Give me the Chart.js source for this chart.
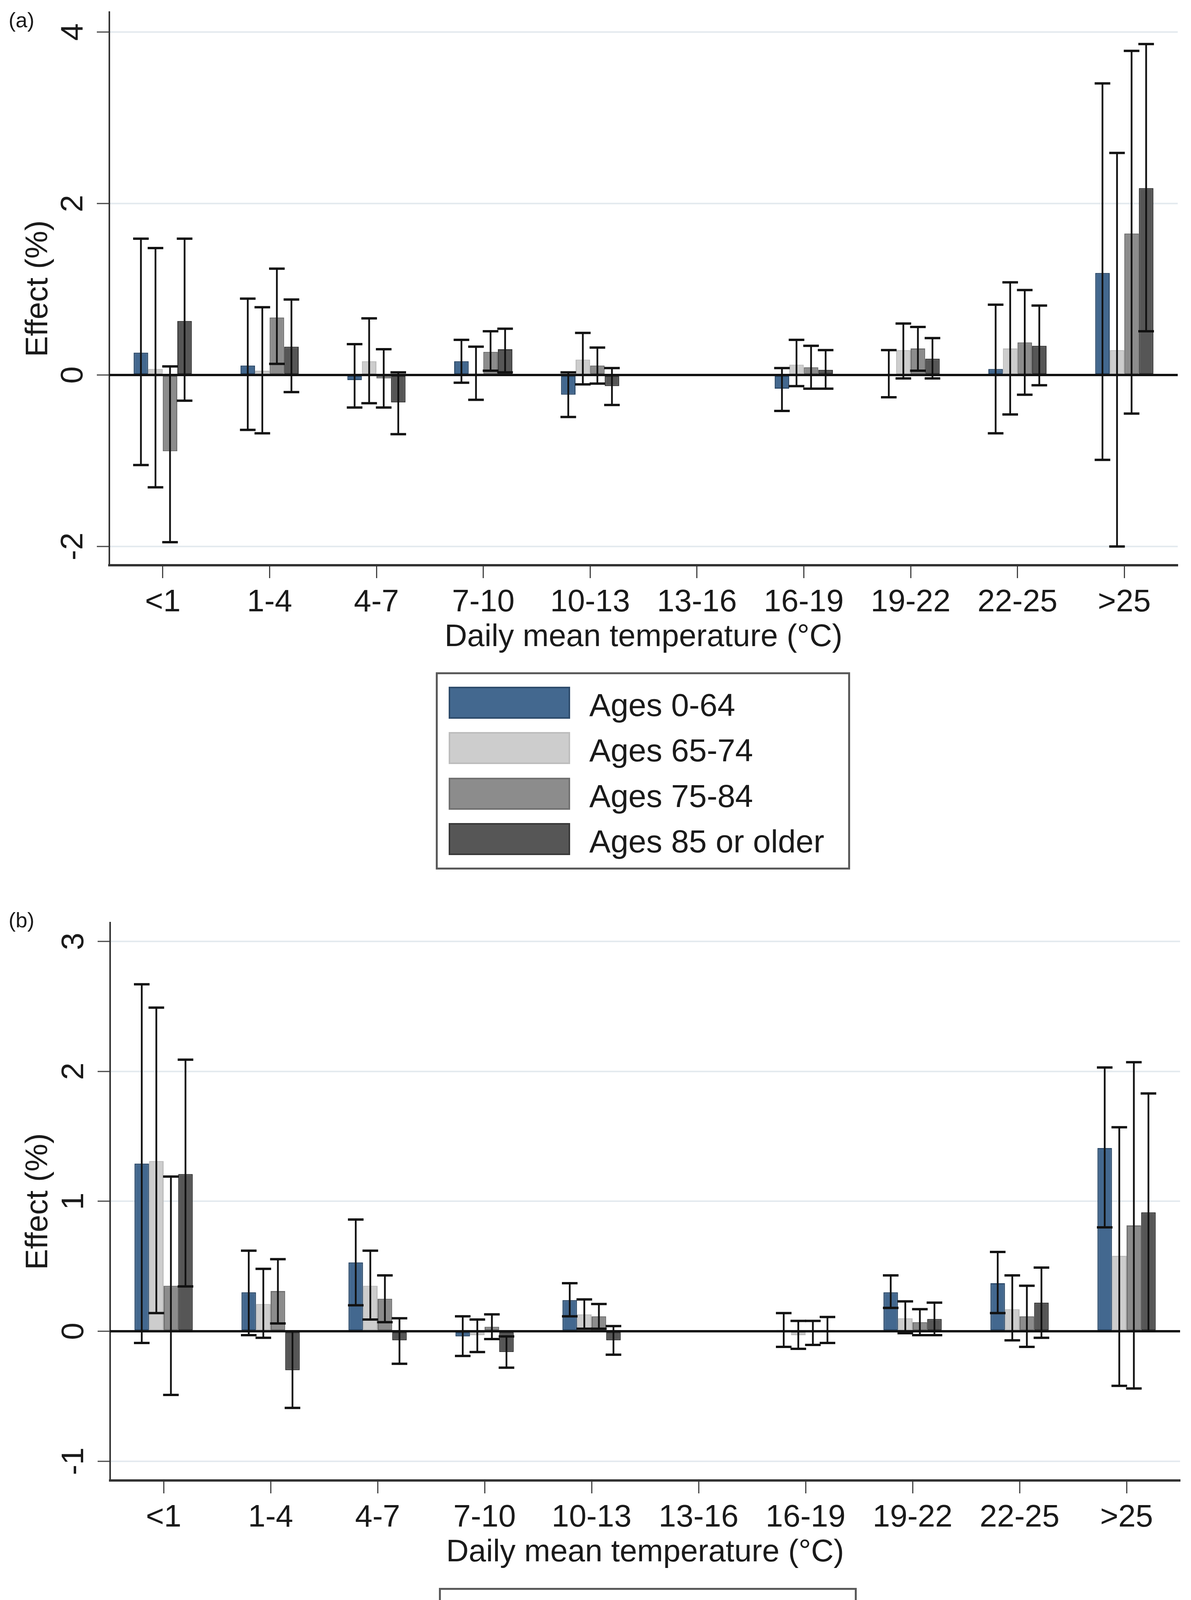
<!DOCTYPE html>
<html>
<head>
<meta charset="utf-8">
<script src="https://cdn.jsdelivr.net/npm/chart.js@4.4.1/dist/chart.umd.min.js"></script>
<style>
  html, body { margin: 0; padding: 0; background: #fff; }
  body { width: 3050px; height: 4608px; position: relative; overflow: hidden;
         font-family: "Liberation Sans", Arial, sans-serif; color: #1a1a1a; }
  canvas { position: absolute; left: 0; }
  .panel-tag { position: absolute; left: 22px; font-size: 54px; line-height: 54px; }
  .legend { position: absolute; border: 5px solid #5a5a5a; box-sizing: border-box; background: #fff; }
  .legend-swatch { position: absolute; box-sizing: border-box; border: 4px solid; }
  .legend-text { position: absolute; font-size: 82px; white-space: nowrap; }
</style>
</head>
<body>
<div class="panel-tag" style="top:24px">(a)</div>
<canvas id="chartA" width="3050" height="1700" style="top:0"></canvas>
<div class="legend" id="legendA"></div>

<div class="panel-tag" style="top:2328px">(b)</div>
<canvas id="chartB" width="3050" height="1730" style="top:2300px"></canvas>
<div class="legend" id="legendB"></div>

<script>
'use strict';

var tempBands = ['<1', '1-4', '4-7', '7-10', '10-13', '13-16', '16-19', '19-22', '22-25', '>25'];
var ageGroups = ['Ages 0-64', 'Ages 65-74', 'Ages 75-84', 'Ages 85 or older'];
var yTicksA = [-2, 0, 2, 4];
var yTicksB = [-1, 0, 1, 2, 3];

// panel (a): estimate, lower and upper CI per age group (13-16 is the reference band)
var effA_0_64  = [0.26, 0.11, -0.06, 0.16, -0.23, null, -0.16, 0.01, 0.07, 1.19];
var lowA_0_64  = [-1.05, -0.64, -0.38, -0.09, -0.49, null, -0.42, -0.26, -0.68, -0.99];
var highA_0_64 = [1.59, 0.89, 0.36, 0.41, 0.03, null, 0.08, 0.29, 0.82, 3.40];

var effA_65_74  = [0.07, 0.05, 0.16, 0.02, 0.18, null, 0.12, 0.29, 0.31, 0.29];
var lowA_65_74  = [-1.31, -0.68, -0.33, -0.29, -0.11, null, -0.13, -0.04, -0.46, -2.00];
var highA_65_74 = [1.48, 0.79, 0.66, 0.33, 0.49, null, 0.41, 0.60, 1.08, 2.59];

var effA_75_84  = [-0.89, 0.67, -0.04, 0.27, 0.11, null, 0.09, 0.31, 0.38, 1.65];
var lowA_75_84  = [-1.95, 0.13, -0.38, 0.05, -0.10, null, -0.16, 0.05, -0.23, -0.45];
var highA_75_84 = [0.10, 1.24, 0.30, 0.51, 0.32, null, 0.34, 0.56, 0.99, 3.78];

var effA_85  = [0.63, 0.33, -0.32, 0.30, -0.13, null, 0.06, 0.19, 0.34, 2.18];
var lowA_85  = [-0.30, -0.20, -0.69, 0.03, -0.35, null, -0.16, -0.04, -0.12, 0.51];
var highA_85 = [1.59, 0.88, 0.03, 0.54, 0.08, null, 0.29, 0.43, 0.81, 3.86];

// panel (b)
var effB_0_64  = [1.29, 0.30, 0.53, -0.04, 0.24, null, 0.01, 0.30, 0.37, 1.41];
var lowB_0_64  = [-0.09, -0.03, 0.20, -0.19, 0.115, null, -0.12, 0.18, 0.14, 0.80];
var highB_0_64 = [2.67, 0.62, 0.86, 0.115, 0.37, null, 0.14, 0.43, 0.61, 2.03];

var effB_65_74  = [1.31, 0.21, 0.35, -0.03, 0.13, null, -0.03, 0.10, 0.17, 0.58];
var lowB_65_74  = [0.14, -0.05, 0.09, -0.16, 0.02, null, -0.135, -0.015, -0.07, -0.42];
var highB_65_74 = [2.49, 0.48, 0.62, 0.09, 0.245, null, 0.08, 0.23, 0.43, 1.57];

var effB_75_84  = [0.35, 0.31, 0.25, 0.035, 0.115, null, -0.01, 0.07, 0.115, 0.815];
var lowB_75_84  = [-0.49, 0.06, 0.07, -0.06, 0.02, null, -0.105, -0.03, -0.12, -0.44];
var highB_75_84 = [1.19, 0.555, 0.43, 0.13, 0.21, null, 0.08, 0.17, 0.35, 2.07];

var effB_85  = [1.21, -0.30, -0.07, -0.16, -0.07, null, 0.01, 0.095, 0.22, 0.915];
var lowB_85  = [0.345, -0.59, -0.25, -0.28, -0.18, null, -0.09, -0.03, -0.05, 0.0];
var highB_85 = [2.09, 0.0, 0.10, -0.04, 0.04, null, 0.11, 0.22, 0.49, 1.83];

var FONT = '"Liberation Sans", Arial, sans-serif';
var ageFill = ['#43688f', '#cdcdcd', '#8c8c8c', '#565656'];
var ageEdge = ['#2d4b6b', '#bdbdbd', '#707070', '#383838'];

// zero line, confidence intervals and rotated y labels (Stata look)
var stataExtras = {
  id: 'stataExtras',
  afterDatasetsDraw: function(chart) {
    var ctx = chart.ctx;
    var area = chart.chartArea;
    var y = chart.scales.y;
    var zero = y.getPixelForValue(0);
    ctx.save();
    ctx.strokeStyle = '#111';
    ctx.lineWidth = 6;
    ctx.beginPath();
    ctx.moveTo(area.left, zero);
    ctx.lineTo(area.right, zero);
    ctx.stroke();

    chart.data.datasets.forEach(function(ds, d) {
      chart.getDatasetMeta(d).data.forEach(function(bar, j) {
        if (ds.data[j] === null) return;
        var top = y.getPixelForValue(ds.ciHigh[j]);
        var bot = y.getPixelForValue(ds.ciLow[j]);
        ctx.lineWidth = 4.5;
        ctx.beginPath();
        ctx.moveTo(bar.x, top);
        ctx.lineTo(bar.x, bot);
        ctx.stroke();
        ctx.lineWidth = 6;
        ctx.beginPath();
        ctx.moveTo(bar.x - 20, top);
        ctx.lineTo(bar.x + 20, top);
        ctx.moveTo(bar.x - 20, bot);
        ctx.lineTo(bar.x + 20, bot);
        ctx.stroke();
      });
    });
    ctx.restore();
  },
  afterDraw: function(chart) {
    var ctx = chart.ctx;
    var y = chart.scales.y;
    ctx.save();
    ctx.fillStyle = '#1a1a1a';
    ctx.font = '80px ' + FONT;
    ctx.textAlign = 'center';
    ctx.textBaseline = 'middle';
    y.ticks.forEach(function(t) {
      ctx.save();
      ctx.translate(chart.options.tickLabelX, y.getPixelForValue(t.value));
      ctx.rotate(-Math.PI / 2);
      ctx.fillText(String(t.value), 0, 0);
      ctx.restore();
    });
    ctx.restore();
  }
};

function buildChart(canvasId, est, low, high, yMin, yMax, yTicks, axisLeft, pad) {
  var datasets = ageGroups.map(function(name, k) {
    return {
      label: name,
      data: est[k],
      ciLow: low[k],
      ciHigh: high[k],
      backgroundColor: ageFill[k],
      borderColor: ageEdge[k],
      borderWidth: 3,
      borderSkipped: false,
      categoryPercentage: 0.545,
      barPercentage: 1
    };
  });

  return new Chart(document.getElementById(canvasId), {
    type: 'bar',
    data: { labels: tempBands, datasets: datasets },
    options: {
      responsive: false,
      animation: false,
      devicePixelRatio: 1,
      tickLabelX: axisLeft - 91,
      layout: { padding: pad },
      plugins: { legend: { display: false }, tooltip: { enabled: false } },
      scales: {
        x: {
          offset: true,
          grid: { display: true, drawOnChartArea: false, drawTicks: true, tickLength: 33,
                  tickWidth: 3, tickColor: '#444', offset: false },
          border: { display: true, color: '#333', width: 6 },
          ticks: { color: '#1a1a1a', font: { family: FONT, size: 80 }, padding: 15,
                   maxRotation: 0, minRotation: 0, autoSkip: false },
          title: { display: true, text: 'Daily mean temperature (°C)', color: '#1a1a1a',
                   font: { family: FONT, size: 80 }, padding: 0 },
          afterFit: function(s) { s.height = 233; }
        },
        y: {
          min: yMin,
          max: yMax,
          afterBuildTicks: function(s) {
            s.ticks = yTicks.map(function(v) { return { value: v }; });
          },
          grid: { color: '#e4eaef', lineWidth: 4, drawTicks: true, tickLength: 32,
                  tickWidth: 3, tickColor: '#444' },
          border: { display: true, color: '#333', width: 4 },
          ticks: { display: false },
          title: { display: true, text: 'Effect (%)', color: '#1a1a1a',
                   font: { family: FONT, size: 80 }, padding: { top: 51, bottom: 0 } },
          afterFit: function(s) { s.width = axisLeft; }
        }
      }
    },
    plugins: [stataExtras]
  });
}

function makeLegend(id, box, rowTop, rowStep, swatchX, textX) {
  var el = document.getElementById(id);
  el.style.left = box[0] + 'px';
  el.style.top = box[1] + 'px';
  el.style.width = box[2] + 'px';
  el.style.height = box[3] + 'px';
  ageGroups.forEach(function(name, k) {
    var top = rowTop + k * rowStep;
    var sw = document.createElement('div');
    sw.className = 'legend-swatch';
    sw.style.left = swatchX + 'px';
    sw.style.top = top + 'px';
    sw.style.width = '311px';
    sw.style.height = '82px';
    sw.style.background = ageFill[k];
    sw.style.borderColor = ageEdge[k];
    el.appendChild(sw);
    var tx = document.createElement('div');
    tx.className = 'legend-text';
    tx.style.left = textX + 'px';
    tx.style.top = (top + 3) + 'px';
    tx.style.lineHeight = '88px';
    tx.textContent = name;
    el.appendChild(tx);
  });
}

buildChart('chartA',
  [effA_0_64, effA_65_74, effA_75_84, effA_85],
  [lowA_0_64, lowA_65_74, lowA_75_84, lowA_85],
  [highA_0_64, highA_65_74, highA_75_84, highA_85],
  -2.219, 4.232, yTicksA, 280, { top: 31, right: 34, bottom: 20, left: 0 });

buildChart('chartB',
  [effB_0_64, effB_65_74, effB_75_84, effB_85],
  [lowB_0_64, lowB_65_74, lowB_75_84, lowB_85],
  [highB_0_64, highB_65_74, highB_75_84, highB_85],
  -1.148, 3.144, yTicksB, 282, { top: 62, right: 28, bottom: 7, left: 0 });

makeLegend('legendA', [1116, 1721, 1061, 505], 32, 116.3, 28, 388);
makeLegend('legendB', [1124, 4065, 1070, 506], 31, 117.7, 30, 388);
</script>
</body>
</html>
